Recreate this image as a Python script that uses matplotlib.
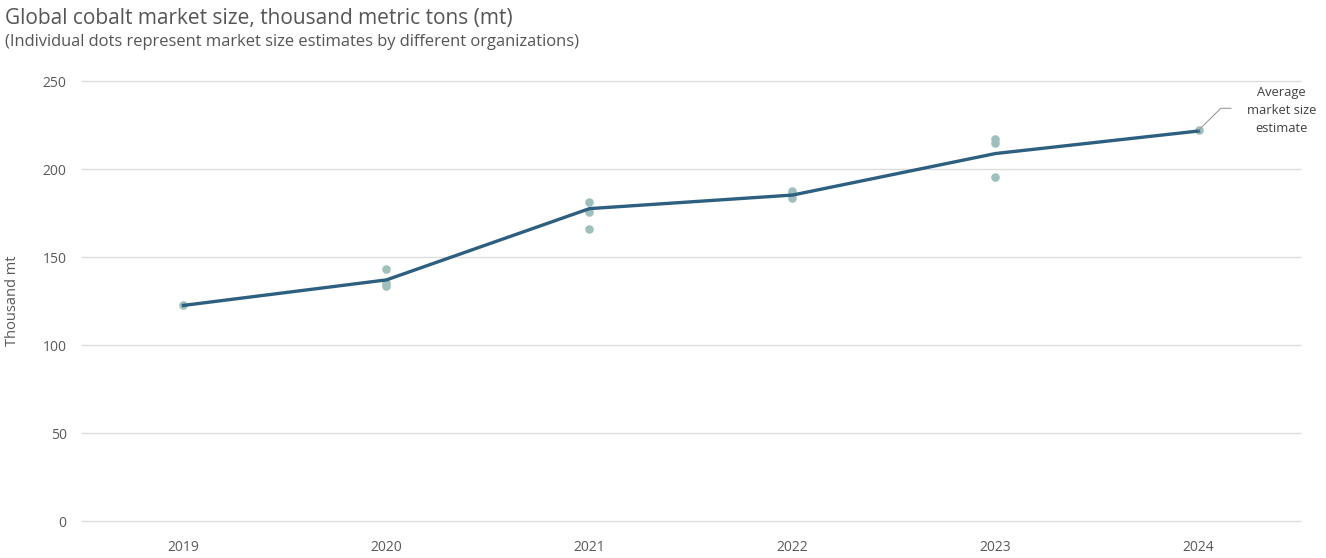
import matplotlib
matplotlib.use("Agg")
import matplotlib.pyplot as plt

plt.rcParams['font.family'] = ['Open Sans', 'DejaVu Sans']

years = [2019, 2020, 2021, 2022, 2023, 2024]
average = [122.5, 137.0, 177.5, 185.2, 208.8, 221.6]

# individual estimates (year, value)
est_years = [2019, 2020, 2020, 2020, 2021, 2021, 2021, 2022, 2022, 2022,
             2023, 2023, 2023, 2024]
est_values = [122.5, 143.0, 135.0, 133.5, 181.0, 175.3, 165.8, 187.3, 185.8, 183.3,
              216.8, 214.8, 195.4, 222.0]

yticks = [0, 50, 100, 150, 200, 250]

text_col = '#595959'
line_col = '#2d5f80'
dot_col = '#9fbfbc'
grid_col = '#dcdcdc'

fig = plt.figure(figsize=(13.26, 5.58), dpi=100)
ax = fig.add_axes([0.0618, 0.0663, 0.9186, 0.7885])

for t in yticks:
    ax.axhline(t, color=grid_col, lw=1, zorder=0, clip_on=False)

ax.scatter(est_years, est_values, s=38, color=dot_col, zorder=2, linewidths=0)
ax.plot(years, average, color=line_col, lw=2.4, zorder=3)

ax.set_xlim(2018.5, 2024.5)
ax.set_ylim(0, 250)
ax.set_xticks(years)
ax.set_xticklabels([str(y) for y in years])
ax.set_yticks(yticks)
for s in ax.spines.values():
    s.set_visible(False)
ax.tick_params(axis='both', length=0, labelsize=10, colors=text_col)
ax.tick_params(axis='x', pad=14)
ax.tick_params(axis='y', pad=11)
ax.set_ylabel('Thousand mt', color=text_col, fontsize=10.5, labelpad=16)

# leader line and annotation
ax.plot([2024, 2024.11, 2024.16], [222.0, 234.5, 234.5], color='#9a9a9a', lw=0.8,
        clip_on=False, zorder=4)
ax.text(2024.41, 233.5, 'Average\nmarket size\nestimate', ha='center', va='center',
        fontsize=9.3, color='#404040', linespacing=1.5, clip_on=False)

fig.text(0.004, 0.966, 'Global cobalt market size, thousand metric tons (mt)',
         fontsize=15, color='#555555', va='center')
fig.text(0.004, 0.925, '(Individual dots represent market size estimates by different organizations)',
         fontsize=11.9, color='#555555', va='center')

fig.savefig('out.png', dpi=100)
